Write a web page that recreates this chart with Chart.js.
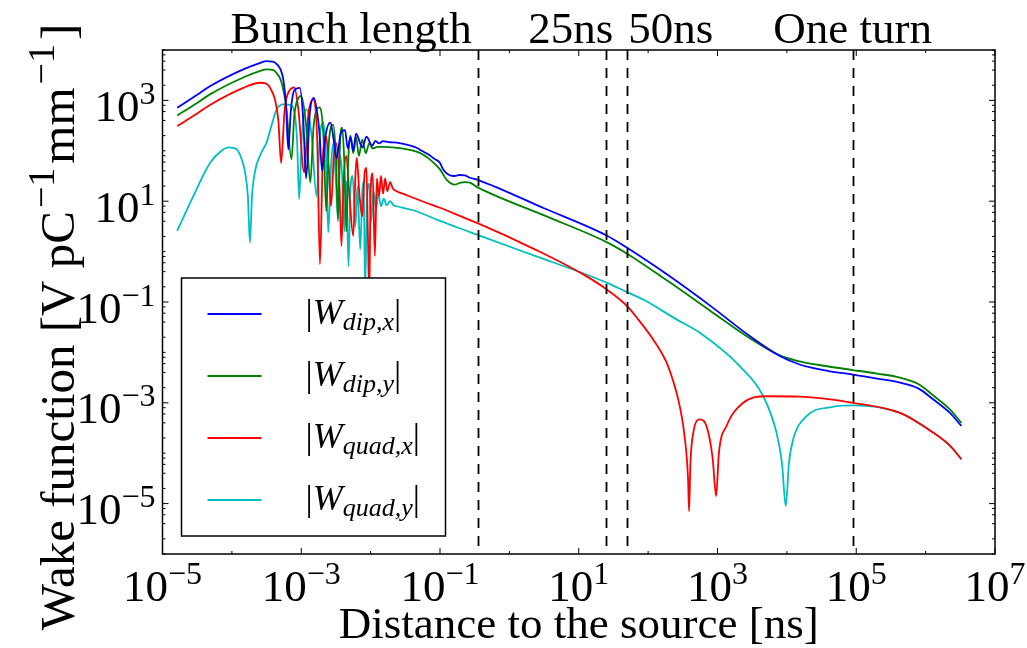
<!DOCTYPE html>
<html>
<head>
<meta charset="utf-8">
<script src="https://cdn.jsdelivr.net/npm/chart.js@4.4.1/dist/chart.umd.min.js"></script>
<style>
  html, body { margin: 0; padding: 0; background: #fff; }
  canvas { display: block; }
</style>
</head>
<body>
<canvas id="wake" width="1027" height="648"></canvas>
<script>
// Distance to the source [ns] and wake amplitude |W| [V pC^-1 mm^-1], one pair of arrays per component
const dipX_t = [1.63e-5, 3.16e-5, 4.83e-5, 1.46e-4, 2.51e-4, 3.17e-4, 3.80e-4, 4.18e-4, 5.01e-4, 5.50e-4, 6.03e-4, 6.50e-4, 7.08e-4, 7.94e-4, 9.55e-4, 1.07e-3, 1.175e-3, 1.32e-3, 1.51e-3, 1.82e-3, 2.0e-3, 2.24e-3, 2.63e-3, 2.95e-3, 3.24e-3, 3.72e-3, 4.27e-3, 4.68e-3, 5.13e-3, 5.62e-3, 6.17e-3, 7.59e-3, 8.71e-3, 1.05e-2, 1.175e-2, 1.32e-2, 1.51e-2, 1.82e-2, 2.37e-2, 3.55e-2, 4.60e-2, 5.62e-2, 6.76e-2, 8.32e-2, 0.1, 0.111, 0.132, 0.155, 0.191, 0.229, 0.27, 0.355, 3.16, 25.2, 49.8, 200, 774, 2920, 7910, 1.53e4, 3.98e4, 8.99e4, 2.0e5, 4.27e5, 7.94e5, 1.28e6, 2.24e6, 3.28e6];
const dipX_w = [716, 1290, 1905, 4120, 5500, 6030, 5890, 5620, 4170, 2630, 794, 107, 631, 1585, 1778, 398, 28.2, 501, 1122, 251, 39.8, 200, 363, 158, 70.8, 224, 257, 112, 186, 100, 219, 117, 191, 126, 158, 141, 155, 148, 145, 129, 115, 97.7, 85.1, 69.2, 57.5, 42.7, 33.9, 31.6, 33.1, 32.4, 29.2, 26.3, 7.24, 2.09, 1.19, 0.331, 0.0857, 0.0211, 8.51e-3, 5.75e-3, 4.27e-3, 3.63e-3, 3.02e-3, 2.51e-3, 1.91e-3, 1.175e-3, 6.31e-4, 3.47e-4];

const dipY_t = [1.63e-5, 3.16e-5, 4.83e-5, 1.46e-4, 2.51e-4, 3.17e-4, 3.98e-4, 4.37e-4, 5.13e-4, 6.03e-4, 7.24e-4, 7.94e-4, 9.12e-4, 1.0e-3, 1.175e-3, 1.35e-3, 1.51e-3, 1.82e-3, 2.09e-3, 2.29e-3, 2.51e-3, 2.88e-3, 3.16e-3, 3.39e-3, 3.63e-3, 3.89e-3, 4.17e-3, 4.47e-3, 4.79e-3, 5.13e-3, 5.62e-3, 6.17e-3, 6.76e-3, 7.59e-3, 8.51e-3, 9.55e-3, 1.07e-2, 1.26e-2, 1.52e-2, 2.95e-2, 5.13e-2, 7.14e-2, 0.1, 0.124, 0.164, 0.2, 0.229, 0.27, 0.355, 3.16, 25.2, 49.8, 200, 774, 2920, 7910, 1.53e4, 3.98e4, 8.99e4, 2.0e5, 4.27e5, 7.94e5, 1.28e6, 2.24e6, 3.28e6];
const dipY_w = [501, 891, 1318, 2850, 3800, 4120, 3980, 3550, 2400, 794, 67.6, 501, 1122, 1230, 316, 23.4, 316, 724, 200, 6.31, 158, 331, 79.4, 4.47, 158, 288, 63.1, 2.51, 79.4, 200, 89.1, 191, 79.4, 166, 89.1, 141, 112, 120, 120, 110, 91.2, 67.6, 42.7, 26.9, 21.4, 23.4, 24.0, 23.3, 18.6, 5.22, 1.545, 0.908, 0.251, 0.0681, 0.0191, 8.71e-3, 6.61e-3, 5.25e-3, 4.47e-3, 3.80e-3, 3.16e-3, 2.34e-3, 1.41e-3, 7.41e-4, 3.98e-4];

const quadX_t = [1.63e-5, 3.16e-5, 4.83e-5, 1.46e-4, 2.54e-4, 3.16e-4, 3.55e-4, 4.17e-4, 4.68e-4, 5.13e-4, 5.75e-4, 6.76e-4, 7.94e-4, 9.12e-4, 1.10e-3, 1.26e-3, 1.48e-3, 1.70e-3, 1.86e-3, 2.04e-3, 2.29e-3, 2.51e-3, 2.69e-3, 2.95e-3, 3.24e-3, 3.55e-3, 3.80e-3, 4.07e-3, 4.47e-3, 4.90e-3, 5.62e-3, 6.03e-3, 6.31e-3, 6.92e-3, 7.59e-3, 8.13e-3, 8.71e-3, 9.12e-3, 9.55e-3, 1.0e-2, 1.07e-2, 1.15e-2, 1.23e-2, 1.32e-2, 1.41e-2, 1.51e-2, 1.62e-2, 1.74e-2, 1.91e-2, 2.09e-2, 2.37e-2, 3.16e-2, 4.11e-2, 6.31e-2, 0.1, 0.27, 0.355, 2.45, 11.6, 25.2, 49.8, 71.8, 115, 184, 251, 286, 331, 376, 389, 407, 447, 556, 708, 851, 955, 1047, 1349, 2344, 5129, 1.55e4, 8.99e4, 4.27e5, 1.28e6, 2.24e6, 3.28e6];
const quadX_w = [309, 550, 813, 1778, 2239, 2138, 1778, 1047, 398, 57.5, 631, 1585, 1820, 631, 37.2, 501, 1047, 158, 0.562, 63.1, 195, 39.8, 7.94, 79.4, 141, 20.0, 1.29, 25.1, 79.4, 15.8, 2.04, 31.6, 72.4, 12.6, 5.01, 31.6, 45.7, 2.51, 0.126, 15.8, 35.5, 0.813, 28.2, 12.6, 31.6, 14.1, 28.2, 15.8, 24.0, 17.8, 15.8, 13.5, 11.7, 9.33, 7.41, 4.22, 3.63, 1.07, 0.353, 0.178, 0.083, 0.0452, 0.0191, 6.31e-3, 1.78e-3, 8.51e-4, 2.51e-4, 3.16e-5, 7.08e-6, 6.31e-5, 2.51e-4, 4.68e-4, 3.16e-4, 7.94e-5, 1.41e-5, 1.0e-4, 3.47e-4, 1.0e-3, 1.35e-3, 1.32e-3, 1.0e-3, 6.31e-4, 2.57e-4, 1.41e-4, 7.59e-5];

const quadY_t = [1.63e-5, 2.78e-5, 4.83e-5, 7.08e-5, 8.91e-5, 1.175e-4, 1.41e-4, 1.55e-4, 1.70e-4, 1.82e-4, 1.95e-4, 2.14e-4, 2.63e-4, 3.16e-4, 3.72e-4, 4.42e-4, 5.50e-4, 7.24e-4, 8.13e-4, 8.71e-4, 9.33e-4, 1.02e-3, 1.20e-3, 1.41e-3, 1.66e-3, 1.86e-3, 2.09e-3, 2.29e-3, 2.45e-3, 2.69e-3, 2.88e-3, 3.16e-3, 3.39e-3, 3.63e-3, 3.89e-3, 4.17e-3, 4.47e-3, 4.79e-3, 5.13e-3, 5.50e-3, 6.03e-3, 6.46e-3, 7.08e-3, 7.59e-3, 7.94e-3, 8.32e-3, 8.91e-3, 9.55e-3, 1.02e-2, 1.10e-2, 1.20e-2, 1.29e-2, 1.41e-2, 1.55e-2, 1.70e-2, 1.91e-2, 2.14e-2, 2.37e-2, 4.11e-2, 0.1, 0.27, 0.364, 2.45, 11.6, 25.2, 49.8, 85.1, 256, 556, 2089, 4571, 7079, 8511, 9638, 1.07e4, 1.23e4, 1.905e4, 4.57e4, 8.99e4, 4.27e5, 1.28e6, 2.24e6, 3.28e6];
const quadY_w = [2.57, 12.6, 57.5, 100, 117, 107, 63.1, 37.2, 12.6, 1.51, 12.6, 37.2, 89.1, 145, 316, 661, 832, 794, 490, 158, 11.0, 200, 661, 200, 12.6, 200, 363, 63.1, 2.40, 50.1, 141, 25.1, 3.98, 79.4, 31.6, 2.51, 25.1, 0.513, 17.8, 31.6, 3.16, 20.0, 1.10, 15.8, 25.1, 0.158, 12.6, 22.4, 3.98, 15.8, 7.08, 14.1, 7.94, 11.2, 8.32, 10.0, 8.32, 7.94, 6.61, 4.07, 2.44, 2.09, 0.804, 0.369, 0.242, 0.157, 0.112, 0.0452, 0.0245, 5.37e-3, 1.35e-3, 2.57e-4, 6.31e-5, 8.91e-6, 6.31e-5, 1.86e-4, 5.37e-4, 8.32e-4, 8.91e-4, 6.31e-4, 2.57e-4, 1.41e-4, 7.59e-5];

// Legend entries: [symbol, subscript]
const seriesNames = [['W', 'dip,x'], ['W', 'dip,y'], ['W', 'quad,x'], ['W', 'quad,y']];
const seriesColors = ['#0000ff', '#008000', '#ff0000', '#00bfbf'];

// Reference distances [ns] marked with dashed lines
const markerNames = ['Bunch length', '25ns', '50ns', 'One turn'];
const markerPos = [0.35, 25, 50, 88924];

// Labelled decades on each axis
const xTickExp = [-5, -3, -1, 1, 3, 5, 7];
const yTickExp = [-5, -3, -1, 1, 3];
const xRange = [1e-5, 1e7];
const yRange = [1e-6, 1e4];

const xTitle = 'Distance to the source [ns]';
// [text, superscript?]
const yTitleRuns = [['Wake function [V pC', false], ['\u22121', true], ['mm', false], ['\u22121', true], [']', false]];

const SERIF = '"Liberation Serif", "DejaVu Serif", "Times New Roman", serif';
const fontOf = (size, italic) => (italic ? 'italic ' : '') + size + 'px ' + SERIF;

function runWidth(ctx, r) {
  ctx.font = fontOf(r.size, r.italic);
  return ctx.measureText(r.text).width + (r.padL || 0) + (r.padR || 0);
}
function runsWidth(ctx, runs) {
  return runs.reduce((w, r) => w + runWidth(ctx, r), 0);
}
function drawRuns(ctx, runs, x, y) {
  for (const r of runs) {
    const w = runWidth(ctx, r);
    ctx.fillText(r.text, x + (r.padL || 0), y - (r.rise || 0));
    x += w;
  }
}
function powerRuns(e) {
  const sup = e < 0 ? '\u2212' + (-e) : String(e);
  return [{ text: '10', size: 45 }, { text: sup, size: 32, rise: 17 }];
}

const series = [[dipX_t, dipX_w], [dipY_t, dipY_w], [quadX_t, quadX_w], [quadY_t, quadY_w]];
const toPoints = (t, w) => t.map((v, i) => ({ x: v, y: w[i] }));

const decor = {
  id: 'decor',
  afterDatasetsDraw(chart) {
    const { ctx, chartArea: a, scales: { x, y } } = chart;
    ctx.save();
    ctx.strokeStyle = '#000';

    // dashed reference lines
    ctx.lineWidth = 1.8;
    ctx.setLineDash([10, 8]);
    markerPos.forEach(v => {
      const px = Math.round(x.getPixelForValue(v)) + 0.5;
      ctx.beginPath(); ctx.moveTo(px, a.top); ctx.lineTo(px, a.bottom); ctx.stroke();
    });
    ctx.setLineDash([]);

    // inward ticks on all four sides
    ctx.lineWidth = 1;
    const tick = (x0, y0, x1, y1) => { ctx.beginPath(); ctx.moveTo(x0, y0); ctx.lineTo(x1, y1); ctx.stroke(); };
    for (let e = -5; e <= 7; e++) {
      const px = x.getPixelForValue(Math.pow(10, e));
      const len = (e % 2 !== 0) ? 6 : 3;
      tick(px, a.bottom, px, a.bottom - len);
      tick(px, a.top, px, a.top + len);
    }
    for (let e = -6; e <= 4; e++) {
      const base = Math.pow(10, e);
      const vals = [[base, (e % 2 !== 0) ? 6 : 3]];
      if (e < 4) [2, 4, 6, 8].forEach(m => vals.push([m * base, 3]));
      vals.forEach(([v, len]) => {
        const py = y.getPixelForValue(v);
        tick(a.left, py, a.left + len, py);
        tick(a.right, py, a.right - len, py);
      });
    }

    // frame
    ctx.lineWidth = 1.5;
    ctx.strokeRect(a.left, a.top, a.right - a.left, a.bottom - a.top);

    // legend box
    const lx = a.left + 19, ly = a.top + 228, lw = 264, lh = 258;
    ctx.fillStyle = '#fff';
    ctx.fillRect(lx, ly, lw, lh);
    ctx.lineWidth = 1.5;
    ctx.strokeRect(lx, ly, lw, lh);
    seriesNames.forEach((nm, i) => {
      const yy = ly + 36 + i * 62;
      ctx.strokeStyle = seriesColors[i];
      ctx.lineWidth = 1.8;
      ctx.beginPath(); ctx.moveTo(lx + 26, yy); ctx.lineTo(lx + 80, yy); ctx.stroke();
      ctx.fillStyle = '#000';
      ctx.textAlign = 'left'; ctx.textBaseline = 'alphabetic';
      drawRuns(ctx, [
        { text: '|', size: 36 },
        { text: nm[0], size: 36, italic: true },
        { text: nm[1], size: 26, italic: true, rise: -6 },
        { text: '|', size: 36 }
      ], lx + 124, yy + 10);
    });
    ctx.restore();
  },
  afterDraw(chart) {
    const { ctx, chartArea: a, scales: { x, y } } = chart;
    ctx.save();
    ctx.fillStyle = '#000';
    ctx.textBaseline = 'alphabetic';
    ctx.textAlign = 'left';

    // x tick labels
    xTickExp.forEach(e => {
      const runs = powerRuns(e);
      const w = runsWidth(ctx, runs);
      drawRuns(ctx, runs, x.getPixelForValue(Math.pow(10, e)) - w / 2, a.bottom + 47);
    });
    // y tick labels
    yTickExp.forEach(e => {
      const runs = powerRuns(e);
      const w = runsWidth(ctx, runs);
      drawRuns(ctx, runs, a.left - 7 - w, y.getPixelForValue(Math.pow(10, e)) + 20.5);
    });

    // axis titles
    ctx.font = fontOf(45);
    ctx.textAlign = 'center';
    ctx.fillText(xTitle, (a.left + a.right) / 2, 638);
    ctx.textAlign = 'left';
    const yRuns = yTitleRuns.map(r => r[1]
      ? { text: r[0], size: 38, rise: 20, padL: 3, padR: 4 }
      : { text: r[0], size: 49 });
    const yw = runsWidth(ctx, yRuns);
    ctx.save();
    ctx.translate(74, 0);
    ctx.rotate(-Math.PI / 2);
    drawRuns(ctx, yRuns, -(327 + yw / 2), 0);
    ctx.restore();

    // marker annotations above the frame
    ctx.font = fontOf(45);
    const mx = markerPos.map(v => x.getPixelForValue(v));
    ctx.textAlign = 'right'; ctx.fillText(markerNames[0], mx[0] - 6, 43);
    ctx.textAlign = 'right'; ctx.fillText(markerNames[1], mx[1] + 7, 43);
    ctx.textAlign = 'left'; ctx.fillText(markerNames[2], mx[2] + 1, 43);
    ctx.textAlign = 'center'; ctx.fillText(markerNames[3], mx[3], 43);
    ctx.restore();
  }
};

new Chart(document.getElementById('wake'), {
  type: 'line',
  data: {
    datasets: series.map((s, i) => ({
      label: seriesNames[i].join('_'),
      data: toPoints(s[0], s[1]),
      borderColor: seriesColors[i],
      borderWidth: 1.8,
      pointRadius: 0,
      fill: false,
      cubicInterpolationMode: 'monotone'
    }))
  },
  options: {
    responsive: false,
    animation: false,
    devicePixelRatio: 1,
    layout: { padding: { top: 50, right: 32, left: 0, bottom: 0 } },
    plugins: { legend: { display: false }, tooltip: { enabled: false } },
    scales: {
      x: {
        type: 'logarithmic', min: xRange[0], max: xRange[1],
        grid: { display: false }, border: { display: false }, ticks: { display: false },
        afterFit(s) { s.height = 94; }
      },
      y: {
        type: 'logarithmic', min: yRange[0], max: yRange[1],
        grid: { display: false }, border: { display: false }, ticks: { display: false },
        afterFit(s) { s.width = 162.5; }
      }
    }
  },
  plugins: [decor]
});
</script>
</body>
</html>
